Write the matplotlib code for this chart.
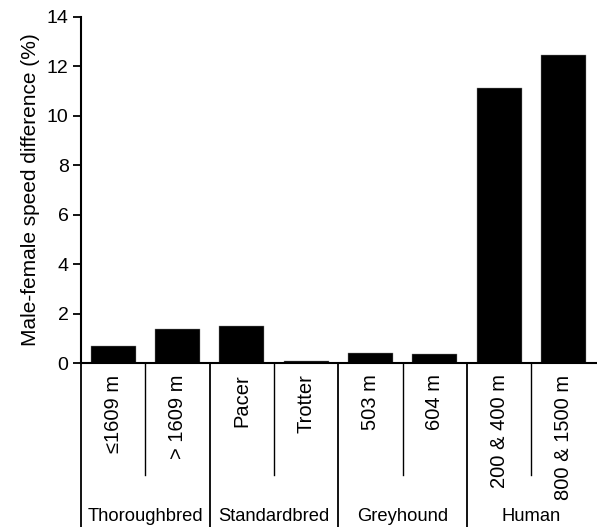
import matplotlib.pyplot as plt
from matplotlib.transforms import blended_transform_factory

plt.rcParams['font.family'] = ['Liberation Sans', 'DejaVu Sans']

categories = ['\u22641609 m', '> 1609 m', 'Pacer', 'Trotter', '503 m', '604 m',
              '200 & 400 m', '800 & 1500 m']
values = [0.68, 1.39, 1.51, 0.09, 0.43, 0.38, 11.13, 12.45]
groups = ['Thoroughbred', 'Standardbred', 'Greyhound', 'Human']
group_sizes = [2, 2, 2, 2]
yticks = [0, 2, 4, 6, 8, 10, 12, 14]

fig = plt.figure(figsize=(5.97, 5.27), dpi=100)
ax = fig.add_axes([0.1357, 0.3106, 0.862, 0.6577])

x = list(range(len(categories)))
ax.bar(x, values, width=0.7, color='black', edgecolor='#888888', linewidth=0.3)
ax.set_xlim(-0.5, len(categories) - 0.5)
ax.set_ylim(0, 14)
ax.set_yticks(yticks)
ax.set_yticklabels([str(t) for t in yticks], fontsize=14)
ax.set_xticks(x)
ax.set_xticklabels(categories, rotation=90, fontsize=14.5)
ax.tick_params(axis='x', length=0, pad=8)
ax.tick_params(axis='y', length=6, width=1.3, direction='out', pad=3)
ax.set_ylabel('Male-female speed difference (%)', fontsize=15, labelpad=5)

for side in ['top', 'right']:
    ax.spines[side].set_visible(False)
for side in ['left', 'bottom']:
    ax.spines[side].set_linewidth(1.5)

trans = blended_transform_factory(ax.transData, ax.transAxes)
start = 0
for name, size in zip(groups, group_sizes):
    left = start - 0.5
    ax.plot([left, left], [0, -0.472], transform=trans, color='black',
            lw=1.3, clip_on=False)
    for k in range(1, size):
        b = start + k - 0.5
        ax.plot([b, b], [0, -0.322], transform=trans, color='black',
                lw=1.0, clip_on=False)
    centre = start + (size - 1) / 2
    ax.text(centre, -0.443, name, transform=trans, ha='center', va='center',
            fontsize=13.2)
    start += size

fig.savefig('out.png', dpi=100)
